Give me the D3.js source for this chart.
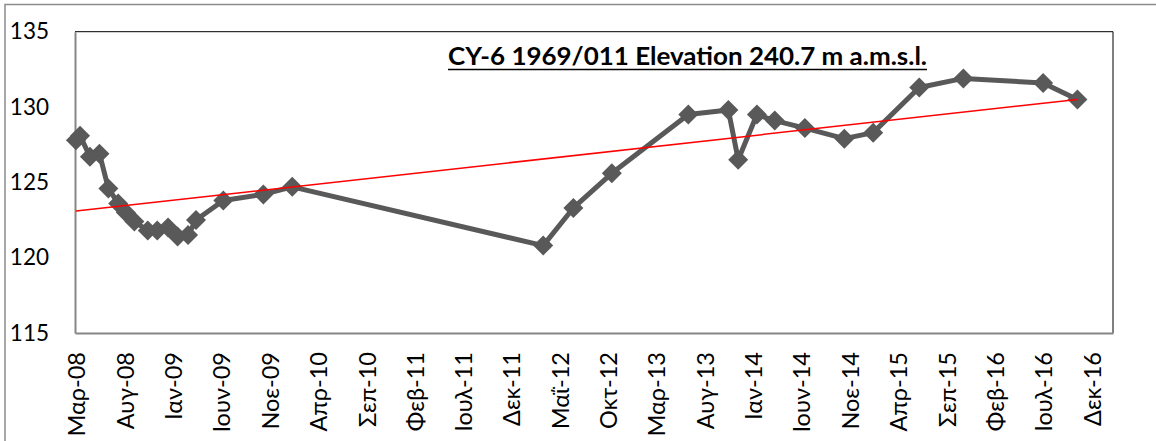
<!DOCTYPE html>
<html><head><meta charset="utf-8">
<script src="https://cdn.jsdelivr.net/npm/d3@7"></script>
<style>
html,body{margin:0;padding:0;background:#fff;}
svg{display:block;}
</style></head>
<body>
<svg id="chart" width="1156" height="441"></svg>
<script>
// ---- data ----
const dates = ["2008-03-04","2008-03-17","2008-04-17","2008-05-17","2008-06-14","2008-07-15","2008-08-08","2008-09-04","2008-10-16","2008-11-15","2008-12-19","2009-01-18","2009-02-20","2009-03-17","2009-06-11","2009-10-15","2010-01-14","2012-03-14","2012-06-17","2012-10-16","2013-06-14","2013-10-18","2013-11-18","2014-01-16","2014-03-13","2014-06-16","2014-10-18","2015-01-17","2015-06-11","2015-10-28","2016-07-05","2016-10-21"];
const levels = [127.8,128.1,126.7,126.9,124.6,123.6,123.0,122.4,121.8,121.8,122.0,121.4,121.5,122.5,123.8,124.2,124.7,120.8,123.3,125.6,129.5,129.8,126.5,129.5,129.1,128.6,127.9,128.3,131.3,131.9,131.6,130.5];
const trendValues = [123.1, 130.5];
const tickDates = ["2008-03-01","2008-08-01","2009-01-01","2009-06-01","2009-11-01","2010-04-01","2010-09-01","2011-02-01","2011-07-01","2011-12-01","2012-05-01","2012-10-01","2013-03-01","2013-08-01","2014-01-01","2014-06-01","2014-11-01","2015-04-01","2015-09-01","2016-02-01","2016-07-01","2016-12-01"];
const tickLabels = ["Μαρ-08","Αυγ-08","Ιαν-09","Ιουν-09","Νοε-09","Απρ-10","Σεπ-10","Φεβ-11","Ιουλ-11","Δεκ-11","Μαΐ-12","Οκτ-12","Μαρ-13","Αυγ-13","Ιαν-14","Ιουν-14","Νοε-14","Απρ-15","Σεπ-15","Φεβ-16","Ιουλ-16","Δεκ-16"];
const yTicks = [115,120,125,130,135];
const title = "CY-6 1969/011 Elevation 240.7 m a.m.s.l.";

// ---- layout ----
const parse = d3.utcParse("%Y-%m-%d");
const L = 75, R = 1113, T = 31.7, B = 333;
const font = "Lato, 'Open Sans', sans-serif";
const svg = d3.select("#chart");

const x = d3.scaleUtc().domain([parse("2008-03-01"), parse("2017-02-10")]).range([L, R]);
const y = d3.scaleLinear().domain([115, 135]).range([B, T]);

// outer chart border
svg.append("path").attr("d", `M5,441 L5,4.5 L1156,4.5`).attr("fill","none").attr("stroke","#8c8c8c").attr("stroke-width",1.5);

// plot area border (top/right)
svg.append("path").attr("d", `M${L},${T} L${R},${T} L${R},${B}`).attr("fill","none").attr("stroke","#000").attr("stroke-width",1);

// y axis
const yAxis = d3.axisLeft(y).tickValues(yTicks).tickSize(0).tickPadding(26).tickFormat(d3.format("d"));
const gy = svg.append("g").attr("transform",`translate(${L},0)`).call(yAxis);
gy.select(".domain").attr("stroke","#868686").attr("stroke-width",2);
gy.selectAll("text").attr("font-family",font).attr("font-size",22.5).attr("fill","#000");

// x axis
const tickDateObjs = tickDates.map(parse);
const xAxis = d3.axisBottom(x).tickValues(tickDateObjs).tickSize(0).tickFormat((d,i)=>tickLabels[i]);
const gx = svg.append("g").attr("transform",`translate(0,${B})`).call(xAxis);
gx.select(".domain").attr("stroke","#868686").attr("stroke-width",2);
gx.selectAll(".tick text")
  .attr("font-family",font).attr("font-size",23.5).attr("fill","#000")
  .attr("text-anchor","end")
  .attr("transform","translate(1.5,19) rotate(-90)")
  .attr("x",0).attr("y",0).attr("dy","0.35em");

// data line
const pts = dates.map((d,i)=>({date:parse(d), v:levels[i]}));
const line = d3.line().x(d=>x(d.date)).y(d=>y(d.v));
svg.append("path").datum(pts).attr("d",line).attr("fill","none")
  .attr("stroke","#595959").attr("stroke-width",5).attr("stroke-linejoin","round");

// markers (rotated squares)
const sym = d3.symbol().type(d3.symbolSquare).size(200);
svg.append("g").selectAll("path").data(pts).join("path")
  .attr("d",sym)
  .attr("transform",d=>`translate(${x(d.date)},${y(d.v)}) rotate(45)`)
  .attr("fill","#595959");

// trend line
const trendPts = [{date:pts[0].date, v:trendValues[0]},{date:pts[pts.length-1].date, v:trendValues[1]}];
svg.append("path").datum(trendPts).attr("d",line).attr("fill","none")
  .attr("stroke","#ff0000").attr("stroke-width",1.5);

// title
const t = svg.append("text").attr("x",448).attr("y",65).attr("text-anchor","start")
  .attr("font-family",font).attr("font-weight","bold").attr("font-size",24.5)
  .attr("textLength",479).attr("lengthAdjust","spacingAndGlyphs")
  .attr("fill","#000").text(title);
svg.append("line").attr("x1",448).attr("x2",927).attr("y1",69.5).attr("y2",69.5)
  .attr("stroke","#000").attr("stroke-width",1.5);
</script>
</body></html>
